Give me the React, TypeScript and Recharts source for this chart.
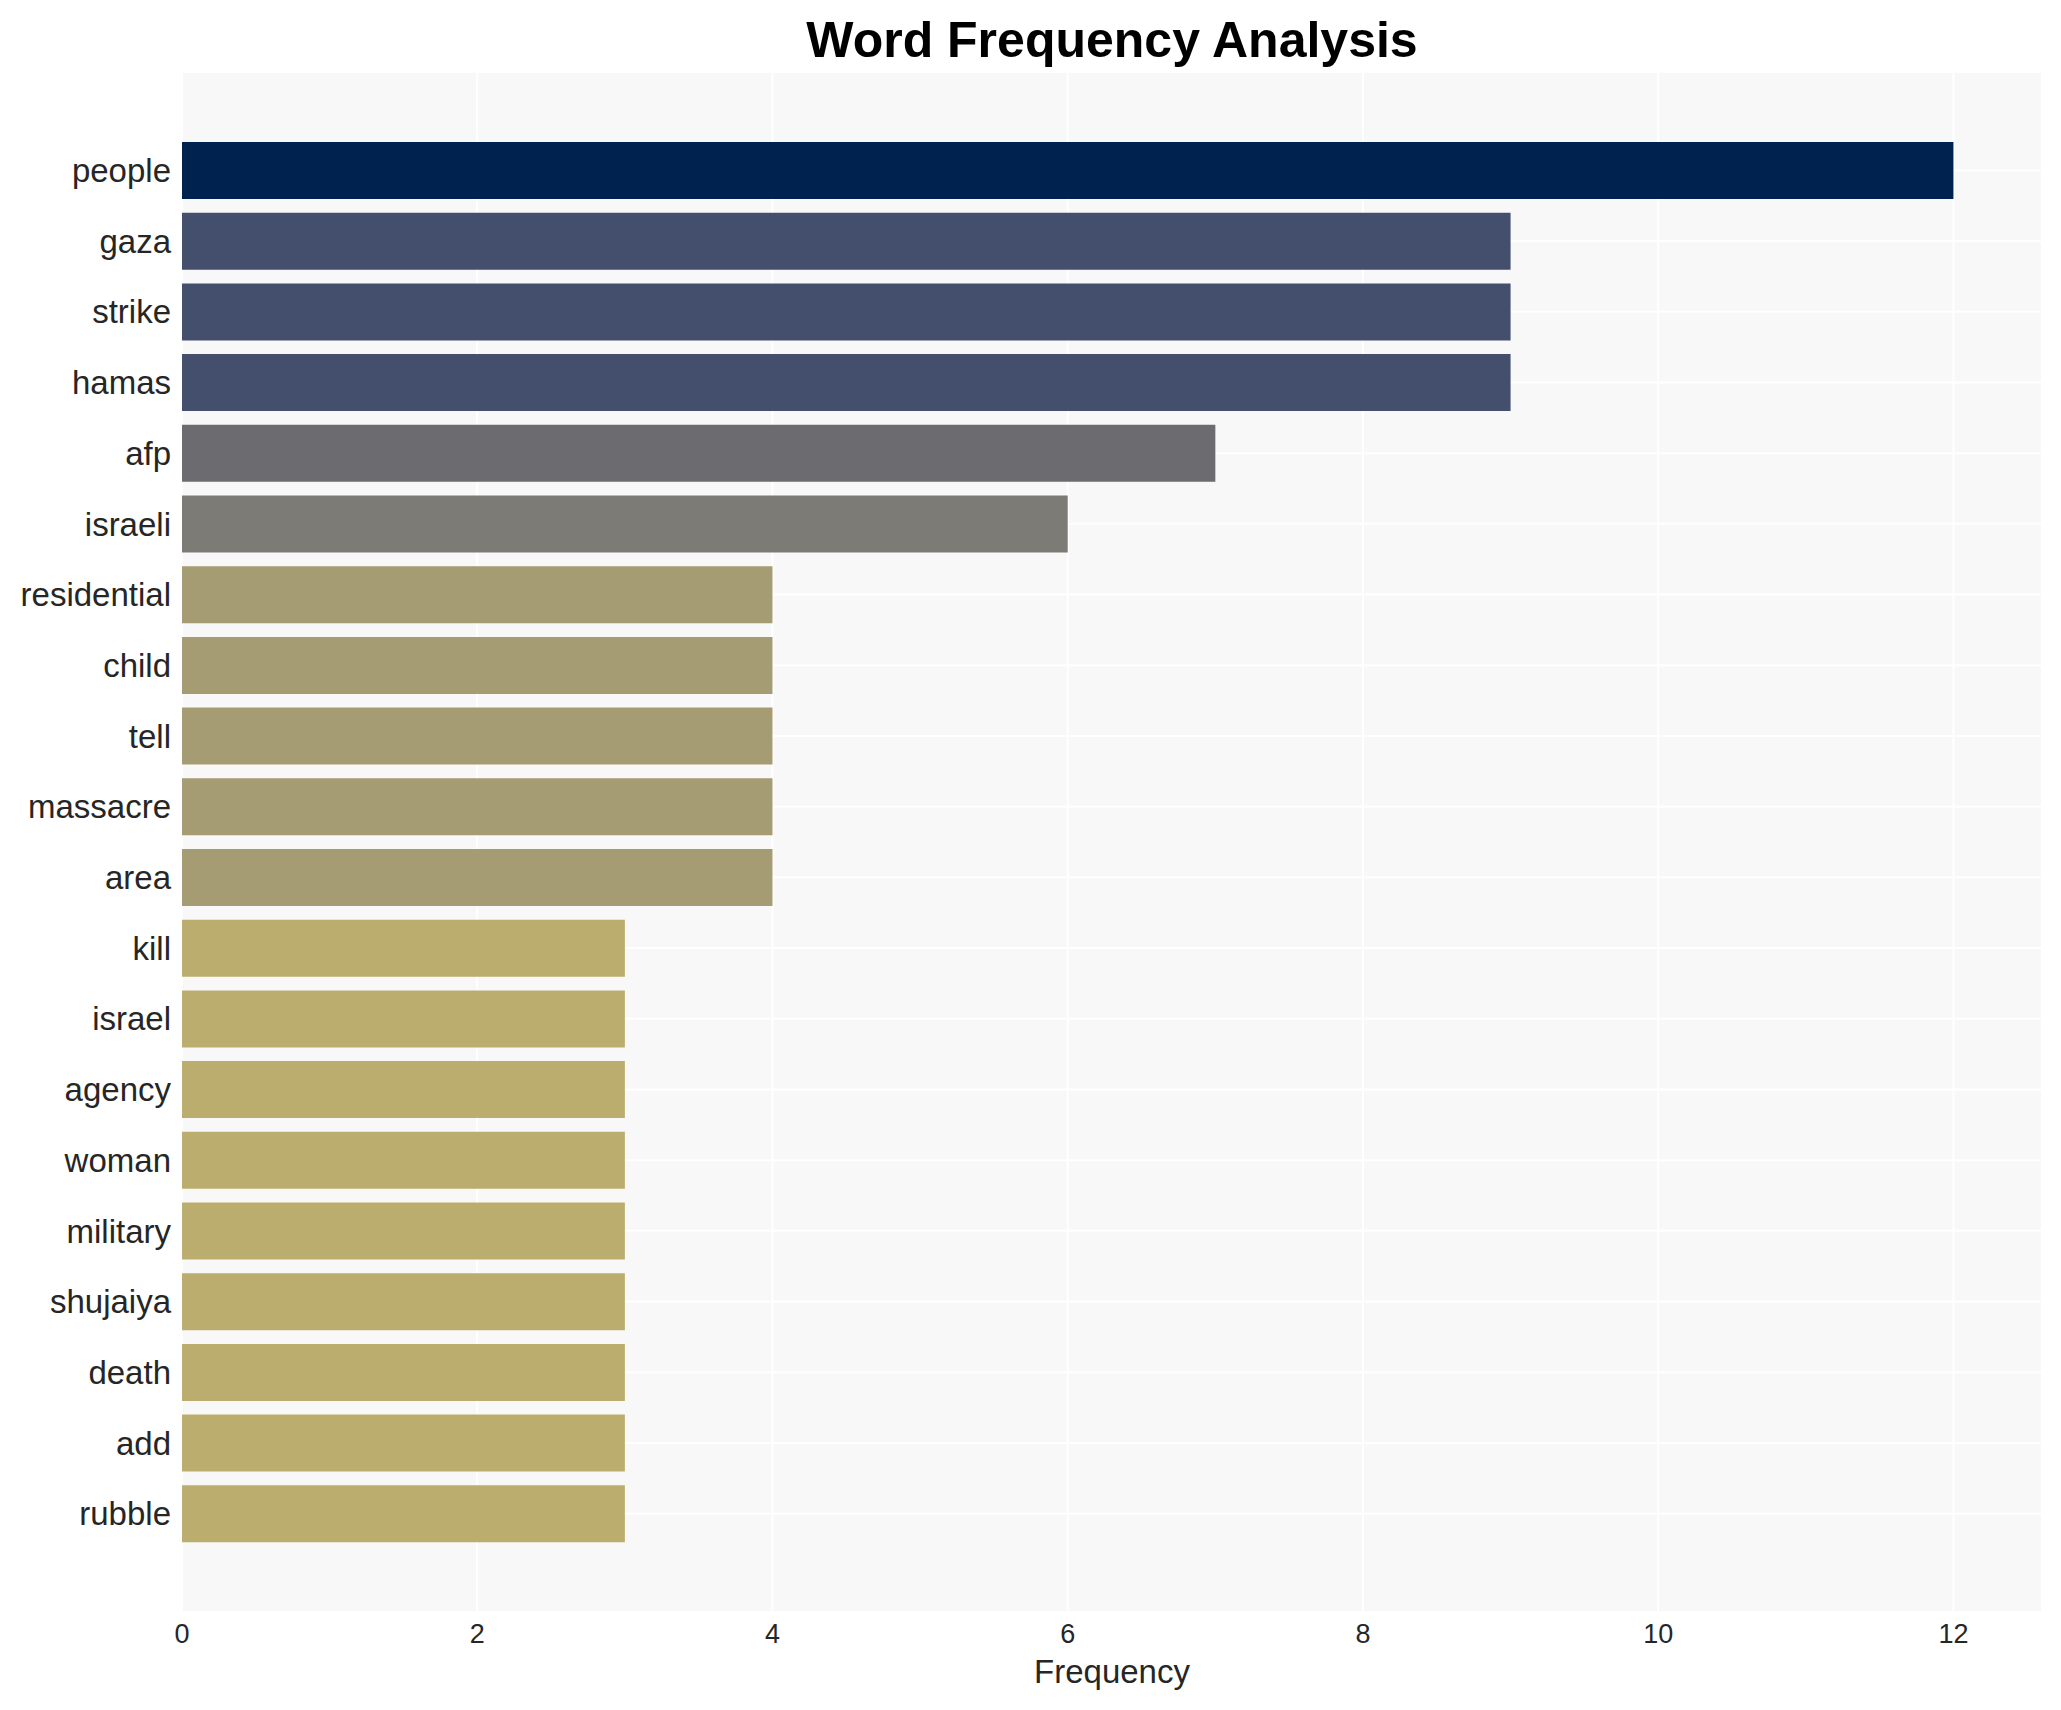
import React from 'react';
import { BarChart, Bar, XAxis, YAxis, CartesianGrid, Cell, Label } from 'recharts';

const words = [
    'people', 'gaza', 'strike', 'hamas', 'afp', 'israeli', 'residential', 'child', 'tell', 'massacre',
    'area', 'kill', 'israel', 'agency', 'woman', 'military', 'shujaiya', 'death', 'add', 'rubble',
];
const counts = [12, 9, 9, 9, 7, 6, 4, 4, 4, 4, 4, 3, 3, 3, 3, 3, 3, 3, 3, 3];
const xTicks = [0, 2, 4, 6, 8, 10, 12];

// cividis-like shades, darker for higher counts
const shade: Record<number, string> = {
    12: '#00224e',
    9: '#434f6c',
    7: '#6b6b70',
    6: '#7d7b76',
    4: '#a59c73',
    3: '#bbad6d',
};

const data = words.map((w, i) => ({ word: w, count: counts[i] }));

const font = '"Liberation Sans", Arial, Helvetica, sans-serif';

export default function App() {
    return (
        <div style={{ position: 'absolute', left: 0, top: 0, width: 2061, height: 1710, background: '#fff', fontFamily: font }}>
            <div style={{
                position: 'absolute', left: 182, top: 15, width: 1860, textAlign: 'center',
                fontSize: 50, lineHeight: '50px', fontWeight: 'bold', color: '#000',
            }}>
                Word Frequency Analysis
            </div>
            <BarChart
                width={2061}
                height={1710}
                data={data}
                layout="vertical"
                margin={{ top: 72, right: 19, left: 0, bottom: 0 }}
            >
                <CartesianGrid fill="#f8f8f8" stroke="#ffffff" strokeWidth={2} />
                <XAxis
                    type="number"
                    domain={[0, 12.6]}
                    ticks={xTicks}
                    height={98}
                    tickLine={false}
                    axisLine={false}
                    tickSize={0}
                    tickMargin={12}
                    tick={{ fontSize: 27, fill: '#262626', fontFamily: font }}
                >
                    <Label value="Frequency" position="insideBottom" offset={27}
                           style={{ fontSize: 33, fill: '#262626', fontFamily: font }} />
                </XAxis>
                <YAxis
                    type="category"
                    dataKey="word"
                    width={182}
                    padding={{ top: 63, bottom: 63 }}
                    tickLine={false}
                    axisLine={false}
                    tickSize={0}
                    tickMargin={11}
                    interval={0}
                    tick={{ fontSize: 33, fill: '#262626', fontFamily: font }}
                />
                <Bar dataKey="count" barSize={57} isAnimationActive={false}>
                    {data.map((d) => (
                        <Cell key={d.word} fill={shade[d.count]} />
                    ))}
                </Bar>
            </BarChart>
        </div>
    );
}
